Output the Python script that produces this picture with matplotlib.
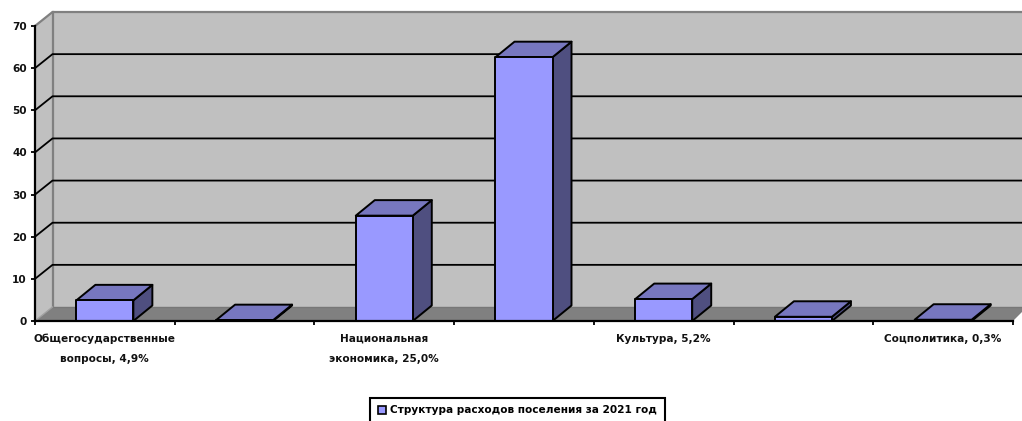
import matplotlib.pyplot as plt
from matplotlib.patches import Polygon, Patch

plt.rcParams['font.family'] = ['DejaVu Sans']

# values
categories = ['Общегосударственные\nвопросы, 4,9%', '', 'Национальная\nэкономика, 25,0%', '',
              'Культура, 5,2%', '', 'Соцполитика, 0,3%']
values = [4.9, 0.2, 25.0, 62.6, 5.2, 1.0, 0.3]
y_ticks = [0, 10, 20, 30, 40, 50, 60, 70]
series_name = 'Структура расходов поселения за 2021 год'

W, H = 1022, 421
fig = plt.figure(figsize=(W / 100, H / 100), dpi=100)
ax = fig.add_axes([35 / W, 1 - 321 / H, (1013 - 35) / W, (321 - 26) / H])
ax.set_xlim(0, 7)
ax.set_ylim(0, 70)
ax.patch.set_visible(False)

# depth of the fake 3d box, in data units
px_x = 978 / 7
px_y = 295 / 70
dx = 17.5 / px_x
dy = 14.0 / px_y
bar_dx = 19 / px_x
bar_dy = 15.5 / px_y
bar_w = 0.408
right = 7.1
font_size = 7.6


def poly(pts, fc, ec='none', lw=0, z=1):
    ax.add_patch(Polygon(pts, closed=True, facecolor=fc, edgecolor=ec, linewidth=lw,
                         zorder=z, clip_on=False, joinstyle='round'))


# walls and floor
poly([(0, 0), (dx, dy), (dx, 70 + dy), (0, 70)], '#c0c0c0', z=1)
poly([(dx, dy), (right, dy), (right, 70 + dy), (dx, 70 + dy)], '#c0c0c0', z=1)
poly([(0, 0), (7, 0), (right, dy), (dx, dy)], '#808080', z=1)

# wall edges
ax.plot([0, dx, right], [70, 70 + dy, 70 + dy], color='#808080', lw=1.6, zorder=2, clip_on=False)
ax.plot([dx, dx], [dy, 70 + dy], color='#808080', lw=1.6, zorder=2, clip_on=False)
ax.plot([dx, right], [dy, dy], color='#777777', lw=1.0, zorder=2, clip_on=False)
ax.plot([0, dx], [0, dy], color='#a0a0a0', lw=1.0, zorder=2, clip_on=False)

# grid lines on both walls
for t in y_ticks[1:-1]:
    ax.plot([0, dx, right], [t, t + dy, t + dy], color='black', lw=1.3, zorder=3, clip_on=False)

# bars
for i, v in enumerate(values):
    x0 = i + 0.5 - bar_w / 2
    x1 = i + 0.5 + bar_w / 2
    poly([(x1, 0), (x1 + bar_dx, bar_dy), (x1 + bar_dx, v + bar_dy), (x1, v)], '#4f4f80', 'black', 1.4, 4)
    poly([(x0, v), (x1, v), (x1 + bar_dx, v + bar_dy), (x0 + bar_dx, v + bar_dy)], '#7777bf', 'black', 1.4, 4)
    poly([(x0, 0), (x1, 0), (x1, v), (x0, v)], '#9999ff', 'black', 1.4, 4)

# axes
for s in ['top', 'right']:
    ax.spines[s].set_visible(False)
for s in ['left', 'bottom']:
    ax.spines[s].set_linewidth(1.6)
    ax.spines[s].set_zorder(6)
ax.set_yticks(y_ticks)
ax.set_xticks(range(8))
ax.set_xticklabels([])
ax.set_xticks([i + 0.5 for i in range(7)], minor=True)
ax.set_xticklabels(categories, minor=True, fontsize=font_size, fontweight='bold', linespacing=2.25, color='#111111')
ax.tick_params(axis='x', which='major', length=3, width=1.3)
ax.tick_params(axis='x', which='minor', length=0, pad=9)
ax.tick_params(axis='y', length=3, width=1.3, labelsize=font_size, pad=3, labelcolor='#111111')
for lab in ax.get_yticklabels():
    lab.set_fontweight('bold')

handle = Patch(facecolor='#9999ff', edgecolor='black', linewidth=1.2)
leg = fig.legend(handles=[handle], labels=[series_name], loc='upper left',
                 bbox_to_anchor=(370 / W, 1 - 397.5 / H), borderaxespad=0, fancybox=False, framealpha=1,
                 edgecolor='black', handlelength=0.75, handleheight=0.75, handletextpad=0.4, borderpad=0.75,
                 prop={'size': font_size, 'weight': 'bold'})
leg.get_frame().set_linewidth(1.5)

fig.savefig('out.png', dpi=100)
